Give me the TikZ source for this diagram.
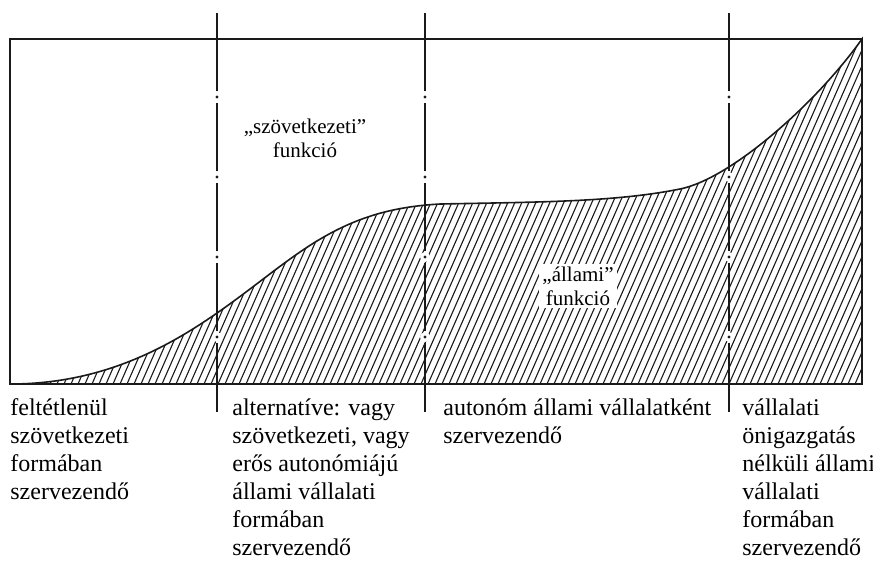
\documentclass[tikz,border=0pt]{standalone}
\usepackage{fontspec}
\setmainfont{Liberation Serif}
\usepackage{xcolor}
\usetikzlibrary{calc}
\definecolor{dgInk}{HTML}{1A1A1A}
\tikzset{
  frameline/.style={draw=dgInk, line width=0.8pt},
  curveline/.style={draw=dgInk, line width=0.8pt},
  divline/.style={draw=dgInk, line width=0.7pt},
  hatchline/.style={draw=dgInk, line width=0.55pt},
  gapmark/.style={fill=white, draw=none},
  funclabel/.style={font=\fontsize{10.5}{12}\selectfont, align=center, fill=white, inner sep=1.5pt},
  formlabel/.style={font=\fontsize{12}{14}\selectfont, align=left, anchor=north west, inner sep=0pt}
}

\begin{document}
\begin{tikzpicture}[x=0.5pt, y=-0.5pt]
  \useasboundingbox (0,0) rectangle (873,564);
  \coordinate (tl) at (10,39);
  \coordinate (tr) at (862,39);
  \coordinate (bl) at (10,384);
  \coordinate (br) at (862,384);

  % area under the curve
  \path[save path=\hatcharea] (bl)
    .. controls (150,384) and (230,300) .. (300,252)
    .. controls (345,221) and (385,207) .. (440,204)
    .. controls (540,202) and (615,202) .. (680,189)
    .. controls (730,179) and (815,105) .. (tr)
    -- (br) -- cycle;
  \begin{scope}
    \clip[use path=\hatcharea];
    \foreach \s in {-160,-153,...,862}
      \draw[hatchline] (\s,384) -- ++(154,-350);
  \end{scope}

  % dash-dot dividers
  \foreach \x [count=\i] in {217,425,729} {
    \coordinate (div\i) at (\x,13);
    \foreach \y in {97,177,257,337} {
      \fill[gapmark] (\x,\y) circle[radius=5];
      \fill[dgInk] (\x,\y) circle[radius=1.6];
    }
    \foreach \a/\b in {13/91,103/171,183/251,263/331,343/412}
      \draw[divline] (\x,\a) -- (\x,\b);
  }

  \draw[curveline, use path=\hatcharea];
  \draw[frameline] (tl) rectangle (br);
  \draw[frameline, line width=1.2pt] (bl) -- (br);

  % labels
  \node[funclabel] (coopfn) at (305,138) {„szövetkezeti”\\funkció};
  \node[funclabel] (statefn) at (578,286) {„állami”\\funkció};

  \node[formlabel] (form1) at (10,398) {feltétlenül\\szövetkezeti\\formában\\szervezendő};
  \node[formlabel] (form2) at (232,398) {alternatíve: vagy\\szövetkezeti, vagy\\erős autonómiájú\\állami vállalati\\formában\\szervezendő};
  \node[formlabel] (form3) at (443,398) {autonóm állami vállalatként\\szervezendő};
  \node[formlabel] (form4) at (742,398) {vállalati\\önigazgatás\\nélküli állami\\vállalati\\formában\\szervezendő};
\end{tikzpicture}
\end{document}
